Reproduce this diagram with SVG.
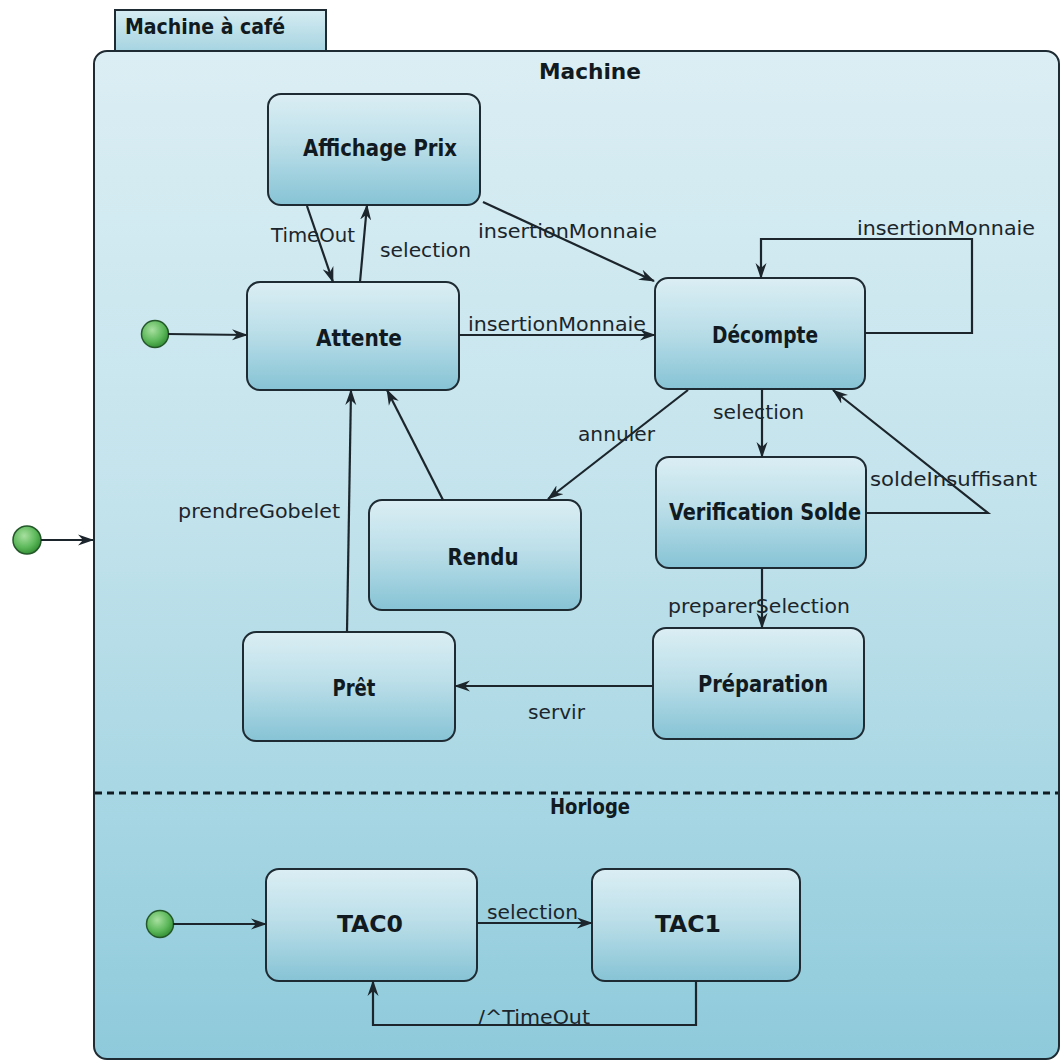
<svg xmlns="http://www.w3.org/2000/svg" width="1062" height="1063" viewBox="0 0 1062 1063">
  <defs>
    <linearGradient id="bodyFill" x1="0" y1="0" x2="0" y2="1">
      <stop offset="0" stop-color="#dbeef4"/>
      <stop offset="0.45" stop-color="#c3e3ec"/>
      <stop offset="0.73" stop-color="#a9d7e4"/>
      <stop offset="1" stop-color="#8ecadb"/>
    </linearGradient>
    <linearGradient id="tabFill" x1="0" y1="0" x2="0" y2="1">
      <stop offset="0" stop-color="#d6ecf2"/>
      <stop offset="1" stop-color="#a6d4e1"/>
    </linearGradient>
    <linearGradient id="stateFill" x1="0" y1="0" x2="0" y2="1">
      <stop offset="0" stop-color="#dbeef4"/>
      <stop offset="0.45" stop-color="#bcdfe9"/>
      <stop offset="1" stop-color="#86c3d5"/>
    </linearGradient>
    <radialGradient id="initFill" cx="0.4" cy="0.35" r="0.7">
      <stop offset="0" stop-color="#a8e0a0"/>
      <stop offset="0.6" stop-color="#5cb85a"/>
      <stop offset="1" stop-color="#2f8a30"/>
    </radialGradient>
    <marker id="arrow" viewBox="0 0 16 12" refX="15" refY="6" markerWidth="16" markerHeight="12" markerUnits="userSpaceOnUse" orient="auto">
      <path d="M0,0.5 L16,6 L0,11.5 L5,6 z" fill="#1b252b"/>
    </marker>
    <style>
      .state { fill: url(#stateFill); stroke: #1f2b33; stroke-width: 2; }
      .name { font-family: "DejaVu Sans Condensed", "DejaVu Sans", sans-serif; font-weight: bold; font-size: 23px; fill: #111a20; text-anchor: middle; }
      .title { font-family: "DejaVu Sans Condensed", "DejaVu Sans", sans-serif; font-weight: bold; font-size: 22px; fill: #111a20; }
      .edge { fill: none; stroke: #1b252b; stroke-width: 2.2; marker-end: url(#arrow); }
      .lbl { font-family: "DejaVu Sans", sans-serif; font-size: 19px; fill: #1b252b; }
      .init { fill: url(#initFill); stroke: #24582a; stroke-width: 1.5; }
    </style>
  </defs>

  <rect width="1062" height="1063" fill="#ffffff"/>

  <!-- composite state "Machine à café" with its tab -->
  <g id="machine-a-cafe">
    <rect x="115" y="10" width="211" height="41" fill="url(#tabFill)" stroke="#1f2b33" stroke-width="2"/>
    <text class="title" x="125" y="34" textLength="160" lengthAdjust="spacingAndGlyphs">Machine à café</text>
    <rect x="94" y="51" width="965" height="1008" rx="13" fill="url(#bodyFill)" stroke="#1f2b33" stroke-width="2"/>
    <line x1="95" y1="793" x2="1058" y2="793" stroke="#111a20" stroke-width="3" stroke-dasharray="7 5"/>
    <text class="title" x="590" y="79" text-anchor="middle" textLength="102" lengthAdjust="spacingAndGlyphs">Machine</text>
    <text class="title" x="590" y="814" text-anchor="middle" textLength="80" lengthAdjust="spacingAndGlyphs">Horloge</text>
  </g>

  <!-- initial pseudostates -->
  <g id="init-outer"><circle class="init" cx="27" cy="540" r="14"/></g>
  <g id="init-machine"><circle class="init" cx="155" cy="334" r="13.5"/></g>
  <g id="init-horloge"><circle class="init" cx="160" cy="924" r="13.5"/></g>

  <!-- states -->
  <g id="affichage-prix">
    <rect class="state" x="268" y="94" width="212" height="111" rx="13"/>
    <text class="name" x="380" y="156" textLength="154" lengthAdjust="spacingAndGlyphs">Affichage Prix</text>
  </g>
  <g id="attente">
    <rect class="state" x="247" y="282" width="212" height="108" rx="13"/>
    <text class="name" x="359" y="346" textLength="86" lengthAdjust="spacingAndGlyphs">Attente</text>
  </g>
  <g id="decompte">
    <rect class="state" x="655" y="278" width="210" height="111" rx="13"/>
    <text class="name" x="765" y="343" textLength="106" lengthAdjust="spacingAndGlyphs">Décompte</text>
  </g>
  <g id="verification-solde">
    <rect class="state" x="656" y="457" width="210" height="111" rx="13"/>
    <text class="name" x="765" y="520" textLength="192" lengthAdjust="spacingAndGlyphs">Verification Solde</text>
  </g>
  <g id="rendu">
    <rect class="state" x="369" y="500" width="212" height="110" rx="13"/>
    <text class="name" x="483" y="565" textLength="71" lengthAdjust="spacingAndGlyphs">Rendu</text>
  </g>
  <g id="pret">
    <rect class="state" x="243" y="632" width="212" height="109" rx="13"/>
    <text class="name" x="354" y="696" textLength="43" lengthAdjust="spacingAndGlyphs">Prêt</text>
  </g>
  <g id="preparation">
    <rect class="state" x="653" y="628" width="211" height="111" rx="13"/>
    <text class="name" x="763" y="692" textLength="130" lengthAdjust="spacingAndGlyphs">Préparation</text>
  </g>
  <g id="tac0">
    <rect class="state" x="266" y="869" width="211" height="112" rx="13"/>
    <text class="name" x="370" y="932" textLength="66" lengthAdjust="spacingAndGlyphs">TAC0</text>
  </g>
  <g id="tac1">
    <rect class="state" x="592" y="869" width="208" height="112" rx="13"/>
    <text class="name" x="688" y="932" textLength="66" lengthAdjust="spacingAndGlyphs">TAC1</text>
  </g>

  <!-- transitions -->
  <g id="connectors">
    <path class="edge" d="M41,540 L93,540"/>
    <path class="edge" d="M168,334 L247,335" stroke-width="2.6"/>
    <path class="edge" d="M173,924 L266,924" stroke-width="2.6"/>

    <path class="edge" d="M307,206 L333,282"/>
    <path class="edge" d="M360,282 L367,205"/>
    <path class="edge" d="M483,202 L654,281"/>
    <path class="edge" d="M459,335 L655,335"/>
    <path class="edge" d="M865,333 L972,333 L972,239 L761,239 L761,278"/>
    <path class="edge" d="M762,389 L762,457"/>
    <path class="edge" d="M866,513 L988,513 L833,390"/>
    <path class="edge" d="M688,390 L548,499"/>
    <path class="edge" d="M443,500 L387,390"/>
    <path class="edge" d="M347,632 L351,390"/>
    <path class="edge" d="M762,568 L762,628"/>
    <path class="edge" d="M653,686 L455,686"/>
    <path class="edge" d="M477,923 L592,923"/>
    <path class="edge" d="M696,981 L696,1025 L373,1025 L373,981"/>

    <text class="lbl" x="271" y="242" textLength="84" lengthAdjust="spacingAndGlyphs">TimeOut</text>
    <text class="lbl" x="380" y="257" textLength="91" lengthAdjust="spacingAndGlyphs">selection</text>
    <text class="lbl" x="478" y="238" textLength="179" lengthAdjust="spacingAndGlyphs">insertionMonnaie</text>
    <text class="lbl" x="468" y="331" textLength="178" lengthAdjust="spacingAndGlyphs">insertionMonnaie</text>
    <text class="lbl" x="857" y="235" textLength="178" lengthAdjust="spacingAndGlyphs">insertionMonnaie</text>
    <text class="lbl" x="713" y="419" textLength="91" lengthAdjust="spacingAndGlyphs">selection</text>
    <text class="lbl" x="870" y="486" textLength="167" lengthAdjust="spacingAndGlyphs">soldeInsuffisant</text>
    <text class="lbl" x="578" y="441" textLength="77" lengthAdjust="spacingAndGlyphs">annuler</text>
    <text class="lbl" x="178" y="518" textLength="162" lengthAdjust="spacingAndGlyphs">prendreGobelet</text>
    <text class="lbl" x="668" y="613" textLength="182" lengthAdjust="spacingAndGlyphs">preparerSelection</text>
    <text class="lbl" x="528" y="719" textLength="57" lengthAdjust="spacingAndGlyphs">servir</text>
    <text class="lbl" x="487" y="919" textLength="91" lengthAdjust="spacingAndGlyphs">selection</text>
    <text class="lbl" x="478" y="1024" textLength="112" lengthAdjust="spacingAndGlyphs">/^TimeOut</text>
  </g>
</svg>
